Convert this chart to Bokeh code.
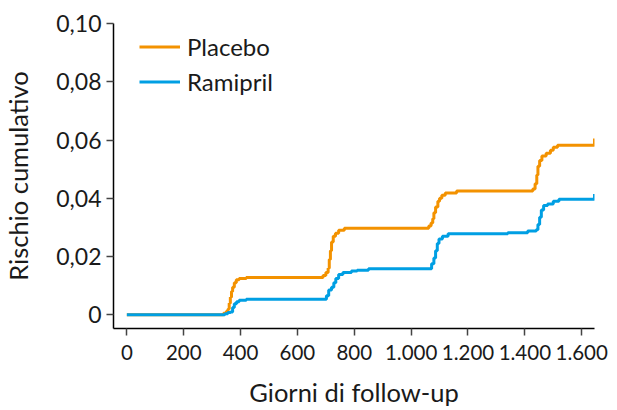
from bokeh.plotting import figure
from bokeh.models import FixedTicker, Range1d
from bokeh.embed import file_html
from bokeh.resources import INLINE

# Kaplan-Meier style cumulative risk
placebo_days = [0, 330, 340, 350, 356, 360, 364, 368, 372, 378, 385, 395, 420,
                680, 690, 700, 708, 712, 716, 720, 726, 734, 745, 765,
                1055, 1062, 1070, 1076, 1080, 1086, 1094, 1100, 1108, 1120, 1160,
                1420, 1428, 1436, 1442, 1446, 1452, 1460, 1475, 1490, 1500, 1515,
                1640, 1645]
placebo_risk = [0, 0, 0.0005, 0.0012, 0.002, 0.004, 0.006, 0.008, 0.0095, 0.011, 0.012, 0.0125, 0.0128,
                0.0128, 0.0135, 0.0145, 0.016, 0.019, 0.022, 0.025, 0.027, 0.028, 0.029, 0.0297,
                0.0297, 0.0305, 0.0315, 0.033, 0.035, 0.037, 0.039, 0.040, 0.041, 0.0418, 0.0425,
                0.0425, 0.0432, 0.045, 0.048, 0.051, 0.053, 0.0545, 0.0555, 0.0565, 0.0575, 0.0582,
                0.0582, 0.0605]

ramipril_days = [0, 335, 345, 355, 365, 372, 378, 386, 395, 420,
                 695, 702, 710, 720, 728, 735, 745, 760, 790, 810, 850,
                 1063, 1072, 1080, 1086, 1092, 1098, 1110, 1130, 1340, 1410,
                 1440, 1446, 1452, 1458, 1466, 1480, 1500, 1520, 1640, 1645]
ramipril_risk = [0, 0, 0.0004, 0.0008, 0.001, 0.0025, 0.0038, 0.0045, 0.005, 0.0053,
                 0.0053, 0.0065, 0.0085, 0.0095, 0.011, 0.0125, 0.0138, 0.0145, 0.015, 0.0153, 0.0158,
                 0.0158, 0.0175, 0.0195, 0.022, 0.0245, 0.026, 0.027, 0.0278, 0.0282, 0.0288,
                 0.0292, 0.031, 0.0335, 0.036, 0.0375, 0.038, 0.039, 0.0397, 0.0397, 0.0415]

x_ticks = [0, 200, 400, 600, 800, 1000, 1200, 1400, 1600]
x_tick_labels = ["0", "200", "400", "600", "800", "1.000", "1.200", "1.400", "1.600"]
y_ticks = [0, 0.02, 0.04, 0.06, 0.08, 0.10]
y_tick_labels = ["0", "0,02", "0,04", "0,06", "0,08", "0,10"]

FONT = "Lato"
TEXT = "#1a1a1a"
ORANGE = "#F39200"
BLUE = "#009FE3"

p = figure(width=617, height=410, output_backend="svg", toolbar_location=None,
           x_range=Range1d(-47, 1645), y_range=Range1d(-0.0047, 0.10),
           min_border_left=112, min_border_right=23, min_border_top=23, min_border_bottom=82,
           outline_line_color=None, background_fill_color="white", border_fill_color="white")

p.step(placebo_days, placebo_risk, mode="after", line_color=ORANGE, line_width=3,
       legend_label="Placebo")
p.step(ramipril_days, ramipril_risk, mode="after", line_color=BLUE, line_width=3,
       legend_label="Ramipril")

p.xgrid.visible = False
p.ygrid.visible = False

p.xaxis.ticker = FixedTicker(ticks=x_ticks)
p.yaxis.ticker = FixedTicker(ticks=y_ticks)
p.xaxis.major_label_overrides = dict(zip(x_ticks, x_tick_labels))
p.yaxis.major_label_overrides = dict(zip(y_ticks, y_tick_labels))

p.xaxis.axis_label = "Giorni di follow-up"
p.yaxis.axis_label = "Rischio cumulativo"

for ax in (p.xaxis, p.yaxis):
    ax.axis_line_color = "black"
    ax.axis_line_width = 1.5
    ax.major_tick_line_color = "#444444"
    ax.major_tick_line_width = 1.5
    ax.major_tick_out = 7
    ax.major_tick_in = 0
    ax.minor_tick_line_color = None
    ax.major_label_text_font = FONT
    ax.major_label_text_color = TEXT
    ax.axis_label_text_font = FONT
    ax.axis_label_text_font_size = "25.5px"
    ax.axis_label_text_font_style = "normal"
    ax.axis_label_text_color = TEXT

p.xaxis.major_label_text_font_size = "20.5px"
p.yaxis.major_label_text_font_size = "23px"
p.yaxis.major_label_standoff = 5
p.xaxis.major_label_standoff = 9
p.yaxis.axis_label_standoff = 20
p.xaxis.axis_label_standoff = 14

lg = p.legend[0]
lg.location = (26, 232)
lg.border_line_color = None
lg.background_fill_alpha = 0
lg.padding = 0
lg.margin = 0
lg.spacing = 6
lg.glyph_width = 41
lg.glyph_height = 29
lg.label_height = 29
lg.label_standoff = 7
lg.label_text_font = FONT
lg.label_text_font_size = "24px"
lg.label_text_color = TEXT

open("out.html", "w").write(file_html(p, INLINE))
